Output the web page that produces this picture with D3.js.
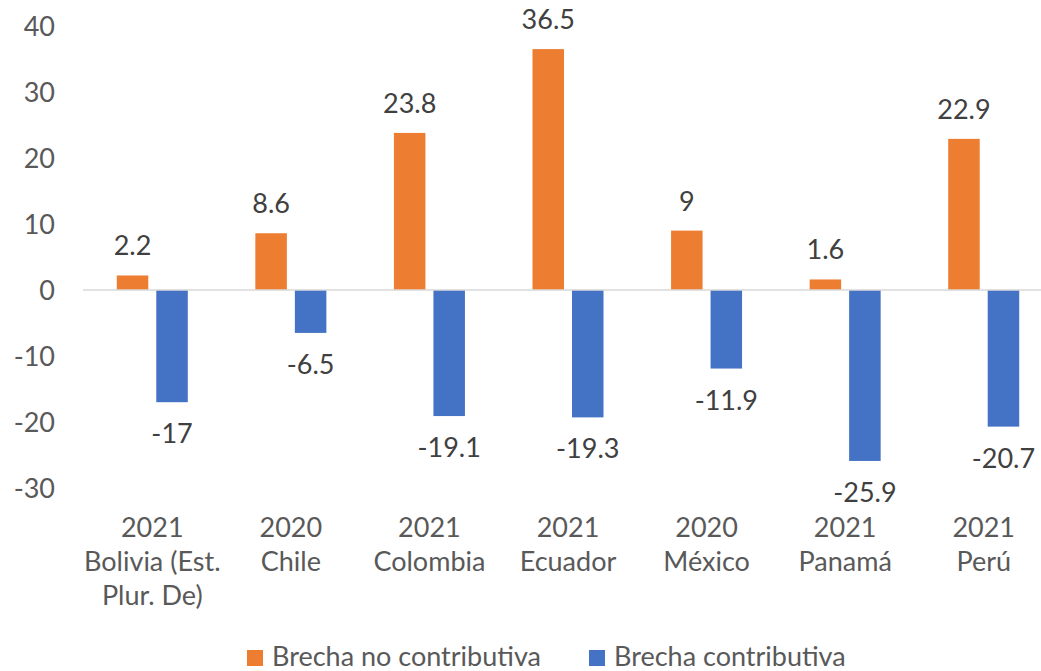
<!DOCTYPE html>
<html><head><meta charset="utf-8">
<script src="https://cdn.jsdelivr.net/npm/d3@7"></script>
<style>body{margin:0;background:#fff}svg{display:block}text{font-family:Lato,"Open Sans",sans-serif}</style>
</head><body>
<svg id="c" width="1041" height="671"></svg>
<script>
const categories = [["2021","Bolivia (Est.","Plur. De)"],["2020","Chile"],["2021","Colombia"],["2021","Ecuador"],["2020","México"],["2021","Panamá"],["2021","Perú"]];
const seriesNames = ["Brecha no contributiva","Brecha contributiva"];
const noContributiva = [2.2, 8.6, 23.8, 36.5, 9, 1.6, 22.9];
const contributiva = [-17, -6.5, -19.1, -19.3, -11.9, -25.9, -20.7];
const yTicks = [-30,-20,-10,0,10,20,30,40];
const colors = ["#ED7D31","#4472C4"];
const FS = 27;

const svg = d3.select("#c");
const keys = categories.map((c,i)=>i);
const x = d3.scaleBand().domain(keys).range([83,1053]).padding(0);
const xi = d3.scaleBand().domain([0,1]).range([0,x.bandwidth()]).paddingInner(0.2025).paddingOuter(0.855);
const y = d3.scaleLinear().domain([-30,40]).range([488,26]);

// y axis labels
const yAxis = d3.axisLeft(y).tickValues(yTicks).tickSize(0).tickPadding(0).tickFormat(d=>String(d));
const gy = svg.append("g").attr("transform","translate(55,0)").call(yAxis);
gy.select(".domain").remove();
gy.selectAll("text").attr("font-size",FS).attr("fill","#595959").attr("font-family","Lato").attr("dy","0.36em");

const data = [noContributiva, contributiva];
data.forEach((vals,s)=>{
  svg.append("g").selectAll("rect").data(vals).join("rect")
    .attr("x",(d,i)=>x(i)+xi(s))
    .attr("width",xi.bandwidth())
    .attr("y",d=>y(Math.max(0,d)))
    .attr("height",d=>Math.abs(y(d)-y(0)))
    .attr("fill",colors[s]);
  svg.append("g").selectAll("text").data(vals).join("text")
    .attr("x",(d,i)=>x(i)+xi(s)+xi.bandwidth()/2)
    .attr("y",d=> d>=0 ? y(d)-20 : y(d)+41)
    .attr("text-anchor","middle")
    .attr("font-size",FS).attr("fill","#404040")
    .text(d=>String(d));
});

// zero line
svg.append("line").attr("x1",83).attr("x2",1053).attr("y1",y(0)).attr("y2",y(0))
  .attr("stroke","#D9D9D9").attr("stroke-width",1.5);

// category labels
const gx = svg.append("g");
categories.forEach((lines,i)=>{
  const t = gx.append("text").attr("text-anchor","middle").attr("font-size",FS).attr("fill","#595959");
  lines.forEach((l,j)=>{
    t.append("tspan").attr("x",x(i)+x.bandwidth()/2).attr("y",537+j*34).text(l);
  });
});

// legend
const legX = [247, 589];
seriesNames.forEach((n,s)=>{
  svg.append("rect").attr("x",legX[s]).attr("y",650).attr("width",16).attr("height",16).attr("fill",colors[s]);
  svg.append("text").attr("x",legX[s]+25).attr("y",666).attr("font-size",FS).attr("fill","#595959").text(n);
});
</script>
</body></html>
